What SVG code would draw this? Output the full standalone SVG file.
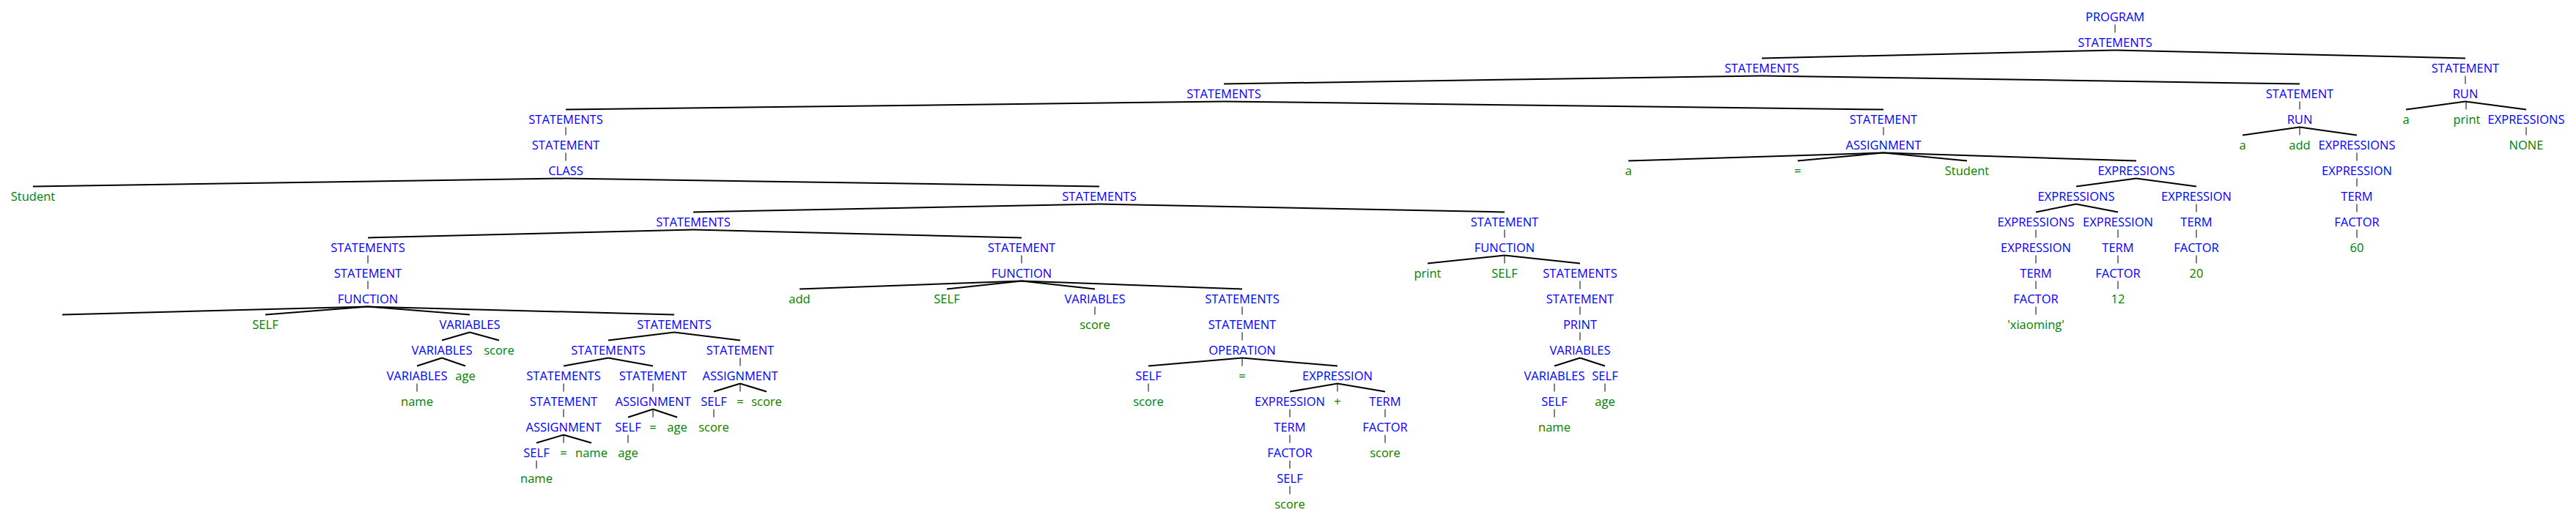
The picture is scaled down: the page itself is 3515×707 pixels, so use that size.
<svg xmlns="http://www.w3.org/2000/svg" width="3515" height="707" viewBox="0 0 3515 707">
<style>
text{font-family:"Open Sans","Noto Sans","DejaVu Sans",sans-serif;font-size:16.5px;text-anchor:middle}
.n{fill:#0000ff}
.l{fill:#008000}
line{stroke:#000;stroke-linecap:butt}
.d{stroke-width:2}
.v{stroke-width:1}
</style>
<rect width="3515" height="707" fill="#fff"/>
<g id="connectors">
<line class="v" x1="2886" y1="33.5" x2="2886" y2="44.5"/>
<line class="d" x1="2886" y1="68.5" x2="2404" y2="79.5"/>
<line class="d" x1="2886" y1="68.5" x2="3364" y2="79.5"/>
<line class="d" x1="2404" y1="103.5" x2="1670" y2="114.5"/>
<line class="d" x1="2404" y1="103.5" x2="3138" y2="114.5"/>
<line class="v" x1="3364" y1="103.5" x2="3364" y2="114.5"/>
<line class="d" x1="1670" y1="138.5" x2="772" y2="149.5"/>
<line class="d" x1="1670" y1="138.5" x2="2570" y2="149.5"/>
<line class="v" x1="3138" y1="138.5" x2="3138" y2="149.5"/>
<line class="d" x1="3364" y1="138.5" x2="3283" y2="149.5"/>
<line class="v" x1="3365" y1="138.5" x2="3365" y2="149.5"/>
<line class="d" x1="3364" y1="138.5" x2="3447" y2="149.5"/>
<line class="v" x1="772" y1="173.5" x2="772" y2="184.5"/>
<line class="v" x1="2570" y1="173.5" x2="2570" y2="184.5"/>
<line class="d" x1="3138" y1="173.5" x2="3060" y2="184.5"/>
<line class="v" x1="3138" y1="173.5" x2="3138" y2="184.5"/>
<line class="d" x1="3138" y1="173.5" x2="3216" y2="184.5"/>
<line class="v" x1="3447" y1="173.5" x2="3447" y2="184.5"/>
<line class="v" x1="772" y1="208.5" x2="772" y2="219.5"/>
<line class="d" x1="2570" y1="208.5" x2="2222" y2="219.5"/>
<line class="d" x1="2570" y1="208.5" x2="2453" y2="219.5"/>
<line class="d" x1="2570" y1="208.5" x2="2684" y2="219.5"/>
<line class="d" x1="2570" y1="208.5" x2="2915" y2="219.5"/>
<line class="v" x1="3216" y1="208.5" x2="3216" y2="219.5"/>
<line class="d" x1="772" y1="243.5" x2="45" y2="254.5"/>
<line class="d" x1="772" y1="243.5" x2="1500" y2="254.5"/>
<line class="d" x1="2915" y1="243.5" x2="2833" y2="254.5"/>
<line class="d" x1="2915" y1="243.5" x2="2997" y2="254.5"/>
<line class="v" x1="3216" y1="243.5" x2="3216" y2="254.5"/>
<line class="d" x1="1500" y1="278.5" x2="946" y2="289.5"/>
<line class="d" x1="1500" y1="278.5" x2="2053" y2="289.5"/>
<line class="d" x1="2833" y1="278.5" x2="2778" y2="289.5"/>
<line class="d" x1="2833" y1="278.5" x2="2890" y2="289.5"/>
<line class="v" x1="2997" y1="278.5" x2="2997" y2="289.5"/>
<line class="v" x1="3216" y1="278.5" x2="3216" y2="289.5"/>
<line class="d" x1="946" y1="313.5" x2="502" y2="324.5"/>
<line class="d" x1="946" y1="313.5" x2="1394" y2="324.5"/>
<line class="v" x1="2053" y1="313.5" x2="2053" y2="324.5"/>
<line class="v" x1="2778" y1="313.5" x2="2778" y2="324.5"/>
<line class="v" x1="2890" y1="313.5" x2="2890" y2="324.5"/>
<line class="v" x1="2997" y1="313.5" x2="2997" y2="324.5"/>
<line class="v" x1="3216" y1="313.5" x2="3216" y2="324.5"/>
<line class="v" x1="502" y1="348.5" x2="502" y2="359.5"/>
<line class="v" x1="1394" y1="348.5" x2="1394" y2="359.5"/>
<line class="d" x1="2053" y1="348.5" x2="1948" y2="359.5"/>
<line class="v" x1="2053" y1="348.5" x2="2053" y2="359.5"/>
<line class="d" x1="2053" y1="348.5" x2="2156" y2="359.5"/>
<line class="v" x1="2778" y1="348.5" x2="2778" y2="359.5"/>
<line class="v" x1="2890" y1="348.5" x2="2890" y2="359.5"/>
<line class="v" x1="2997" y1="348.5" x2="2997" y2="359.5"/>
<line class="v" x1="502" y1="383.5" x2="502" y2="394.5"/>
<line class="d" x1="1394" y1="383.5" x2="1091" y2="394.5"/>
<line class="d" x1="1394" y1="383.5" x2="1292" y2="394.5"/>
<line class="d" x1="1394" y1="383.5" x2="1494" y2="394.5"/>
<line class="d" x1="1394" y1="383.5" x2="1695" y2="394.5"/>
<line class="v" x1="2156" y1="383.5" x2="2156" y2="394.5"/>
<line class="v" x1="2778" y1="383.5" x2="2778" y2="394.5"/>
<line class="v" x1="2890" y1="383.5" x2="2890" y2="394.5"/>
<line class="d" x1="502" y1="418.5" x2="85" y2="429.5"/>
<line class="d" x1="502" y1="418.5" x2="362" y2="429.5"/>
<line class="d" x1="502" y1="418.5" x2="641" y2="429.5"/>
<line class="d" x1="502" y1="418.5" x2="920" y2="429.5"/>
<line class="v" x1="1494" y1="418.5" x2="1494" y2="429.5"/>
<line class="v" x1="1695" y1="418.5" x2="1695" y2="429.5"/>
<line class="v" x1="2156" y1="418.5" x2="2156" y2="429.5"/>
<line class="v" x1="2778" y1="418.5" x2="2778" y2="429.5"/>
<line class="d" x1="641" y1="453.5" x2="603" y2="464.5"/>
<line class="d" x1="641" y1="453.5" x2="681" y2="464.5"/>
<line class="d" x1="920" y1="453.5" x2="830" y2="464.5"/>
<line class="d" x1="920" y1="453.5" x2="1010" y2="464.5"/>
<line class="v" x1="1695" y1="453.5" x2="1695" y2="464.5"/>
<line class="v" x1="2156" y1="453.5" x2="2156" y2="464.5"/>
<line class="d" x1="603" y1="488.5" x2="569" y2="499.5"/>
<line class="d" x1="603" y1="488.5" x2="635" y2="499.5"/>
<line class="d" x1="830" y1="488.5" x2="769" y2="499.5"/>
<line class="d" x1="830" y1="488.5" x2="891" y2="499.5"/>
<line class="v" x1="1010" y1="488.5" x2="1010" y2="499.5"/>
<line class="d" x1="1695" y1="488.5" x2="1567" y2="499.5"/>
<line class="v" x1="1695" y1="488.5" x2="1695" y2="499.5"/>
<line class="d" x1="1695" y1="488.5" x2="1825" y2="499.5"/>
<line class="d" x1="2156" y1="488.5" x2="2121" y2="499.5"/>
<line class="d" x1="2156" y1="488.5" x2="2190" y2="499.5"/>
<line class="v" x1="569" y1="523.5" x2="569" y2="534.5"/>
<line class="v" x1="769" y1="523.5" x2="769" y2="534.5"/>
<line class="v" x1="891" y1="523.5" x2="891" y2="534.5"/>
<line class="d" x1="1010" y1="523.5" x2="974" y2="534.5"/>
<line class="v" x1="1010" y1="523.5" x2="1010" y2="534.5"/>
<line class="d" x1="1010" y1="523.5" x2="1046" y2="534.5"/>
<line class="v" x1="1567" y1="523.5" x2="1567" y2="534.5"/>
<line class="d" x1="1825" y1="523.5" x2="1760" y2="534.5"/>
<line class="v" x1="1825" y1="523.5" x2="1825" y2="534.5"/>
<line class="d" x1="1825" y1="523.5" x2="1890" y2="534.5"/>
<line class="v" x1="2121" y1="523.5" x2="2121" y2="534.5"/>
<line class="v" x1="2190" y1="523.5" x2="2190" y2="534.5"/>
<line class="v" x1="769" y1="558.5" x2="769" y2="569.5"/>
<line class="d" x1="891" y1="558.5" x2="857" y2="569.5"/>
<line class="v" x1="891" y1="558.5" x2="891" y2="569.5"/>
<line class="d" x1="891" y1="558.5" x2="924" y2="569.5"/>
<line class="v" x1="974" y1="558.5" x2="974" y2="569.5"/>
<line class="v" x1="1760" y1="558.5" x2="1760" y2="569.5"/>
<line class="v" x1="1890" y1="558.5" x2="1890" y2="569.5"/>
<line class="v" x1="2121" y1="558.5" x2="2121" y2="569.5"/>
<line class="d" x1="769" y1="593.5" x2="732" y2="604.5"/>
<line class="v" x1="769" y1="593.5" x2="769" y2="604.5"/>
<line class="d" x1="769" y1="593.5" x2="807" y2="604.5"/>
<line class="v" x1="857" y1="593.5" x2="857" y2="604.5"/>
<line class="v" x1="1760" y1="593.5" x2="1760" y2="604.5"/>
<line class="v" x1="1890" y1="593.5" x2="1890" y2="604.5"/>
<line class="v" x1="732" y1="628.5" x2="732" y2="639.5"/>
<line class="v" x1="1760" y1="628.5" x2="1760" y2="639.5"/>
<line class="v" x1="1760" y1="663.5" x2="1760" y2="674.5"/>
</g>
<g id="n-program"><text class="n" x="2886" y="28.5">PROGRAM</text></g>
<g id="n-s1"><text class="n" x="2886" y="63.5">STATEMENTS</text></g>
<g id="n-s2"><text class="n" x="2404" y="98.5">STATEMENTS</text></g>
<g id="n-st2"><text class="n" x="3364" y="98.5">STATEMENT</text></g>
<g id="n-s3"><text class="n" x="1670" y="133.5">STATEMENTS</text></g>
<g id="n-st3"><text class="n" x="3138" y="133.5">STATEMENT</text></g>
<g id="n-run3"><text class="n" x="3364" y="133.5">RUN</text></g>
<g id="n-s4"><text class="n" x="772" y="168.5">STATEMENTS</text></g>
<g id="n-st4"><text class="n" x="2570" y="168.5">STATEMENT</text></g>
<g id="n-run4"><text class="n" x="3138" y="168.5">RUN</text></g>
<g id="n-a4"><text class="l" x="3283" y="168.5">a</text></g>
<g id="n-print4"><text class="l" x="3366" y="168.5">print</text></g>
<g id="n-exps4"><text class="n" x="3447" y="168.5">EXPRESSIONS</text></g>
<g id="n-st5"><text class="n" x="772" y="203.5">STATEMENT</text></g>
<g id="n-asg5"><text class="n" x="2570" y="203.5">ASSIGNMENT</text></g>
<g id="n-a5"><text class="l" x="3060" y="203.5">a</text></g>
<g id="n-add5"><text class="l" x="3138" y="203.5">add</text></g>
<g id="n-exps5"><text class="n" x="3216" y="203.5">EXPRESSIONS</text></g>
<g id="n-none5"><text class="l" x="3447" y="203.5">NONE</text></g>
<g id="n-class6"><text class="n" x="772" y="238.5">CLASS</text></g>
<g id="n-a6"><text class="l" x="2222" y="238.5">a</text></g>
<g id="n-eq6"><text class="l" x="2453" y="238.5">=</text></g>
<g id="n-student6"><text class="l" x="2684" y="238.5">Student</text></g>
<g id="n-exps6"><text class="n" x="2915" y="238.5">EXPRESSIONS</text></g>
<g id="n-exp6"><text class="n" x="3216" y="238.5">EXPRESSION</text></g>
<g id="n-student7"><text class="l" x="45" y="273.5">Student</text></g>
<g id="n-s7"><text class="n" x="1500" y="273.5">STATEMENTS</text></g>
<g id="n-exps7"><text class="n" x="2833" y="273.5">EXPRESSIONS</text></g>
<g id="n-exp7"><text class="n" x="2997" y="273.5">EXPRESSION</text></g>
<g id="n-term7"><text class="n" x="3216" y="273.5">TERM</text></g>
<g id="n-s8"><text class="n" x="946" y="308.5">STATEMENTS</text></g>
<g id="n-st8"><text class="n" x="2053" y="308.5">STATEMENT</text></g>
<g id="n-exps8"><text class="n" x="2778" y="308.5">EXPRESSIONS</text></g>
<g id="n-exp8"><text class="n" x="2890" y="308.5">EXPRESSION</text></g>
<g id="n-term8"><text class="n" x="2997" y="308.5">TERM</text></g>
<g id="n-factor8"><text class="n" x="3216" y="308.5">FACTOR</text></g>
<g id="n-s9"><text class="n" x="502" y="343.5">STATEMENTS</text></g>
<g id="n-st9"><text class="n" x="1394" y="343.5">STATEMENT</text></g>
<g id="n-func9"><text class="n" x="2053" y="343.5">FUNCTION</text></g>
<g id="n-exp9"><text class="n" x="2778" y="343.5">EXPRESSION</text></g>
<g id="n-term9"><text class="n" x="2890" y="343.5">TERM</text></g>
<g id="n-factor9"><text class="n" x="2997" y="343.5">FACTOR</text></g>
<g id="n-60"><text class="l" x="3216" y="343.5">60</text></g>
<g id="n-st10"><text class="n" x="502" y="378.5">STATEMENT</text></g>
<g id="n-func10"><text class="n" x="1394" y="378.5">FUNCTION</text></g>
<g id="n-print10"><text class="l" x="1948" y="378.5">print</text></g>
<g id="n-self10"><text class="l" x="2053" y="378.5">SELF</text></g>
<g id="n-s10"><text class="n" x="2156" y="378.5">STATEMENTS</text></g>
<g id="n-term10"><text class="n" x="2778" y="378.5">TERM</text></g>
<g id="n-factor10"><text class="n" x="2890" y="378.5">FACTOR</text></g>
<g id="n-20"><text class="l" x="2997" y="378.5">20</text></g>
<g id="n-func11"><text class="n" x="502" y="413.5">FUNCTION</text></g>
<g id="n-add11"><text class="l" x="1091" y="413.5">add</text></g>
<g id="n-self11"><text class="l" x="1292" y="413.5">SELF</text></g>
<g id="n-vars11"><text class="n" x="1494" y="413.5">VARIABLES</text></g>
<g id="n-s11"><text class="n" x="1695" y="413.5">STATEMENTS</text></g>
<g id="n-st11"><text class="n" x="2156" y="413.5">STATEMENT</text></g>
<g id="n-factor11"><text class="n" x="2778" y="413.5">FACTOR</text></g>
<g id="n-12"><text class="l" x="2890" y="413.5">12</text></g>
<g id="n-self12"><text class="l" x="362" y="448.5">SELF</text></g>
<g id="n-vars12"><text class="n" x="641" y="448.5">VARIABLES</text></g>
<g id="n-s12"><text class="n" x="920" y="448.5">STATEMENTS</text></g>
<g id="n-score12"><text class="l" x="1494" y="448.5">score</text></g>
<g id="n-st12"><text class="n" x="1695" y="448.5">STATEMENT</text></g>
<g id="n-print12"><text class="n" x="2156" y="448.5">PRINT</text></g>
<g id="n-xiaoming"><text class="l" x="2778" y="448.5">'xiaoming'</text></g>
<g id="n-vars13"><text class="n" x="603" y="483.5">VARIABLES</text></g>
<g id="n-score13"><text class="l" x="681" y="483.5">score</text></g>
<g id="n-s13"><text class="n" x="830" y="483.5">STATEMENTS</text></g>
<g id="n-st13"><text class="n" x="1010" y="483.5">STATEMENT</text></g>
<g id="n-op13"><text class="n" x="1695" y="483.5">OPERATION</text></g>
<g id="n-vars13b"><text class="n" x="2156" y="483.5">VARIABLES</text></g>
<g id="n-vars14"><text class="n" x="569" y="518.5">VARIABLES</text></g>
<g id="n-age14"><text class="l" x="635" y="518.5">age</text></g>
<g id="n-s14"><text class="n" x="769" y="518.5">STATEMENTS</text></g>
<g id="n-st14"><text class="n" x="891" y="518.5">STATEMENT</text></g>
<g id="n-asg14"><text class="n" x="1010" y="518.5">ASSIGNMENT</text></g>
<g id="n-self14"><text class="n" x="1567" y="518.5">SELF</text></g>
<g id="n-eq14"><text class="l" x="1695" y="518.5">=</text></g>
<g id="n-exp14"><text class="n" x="1825" y="518.5">EXPRESSION</text></g>
<g id="n-vars14b"><text class="n" x="2121" y="518.5">VARIABLES</text></g>
<g id="n-self14b"><text class="n" x="2190" y="518.5">SELF</text></g>
<g id="n-name15"><text class="l" x="569" y="553.5">name</text></g>
<g id="n-st15"><text class="n" x="769" y="553.5">STATEMENT</text></g>
<g id="n-asg15"><text class="n" x="891" y="553.5">ASSIGNMENT</text></g>
<g id="n-self15"><text class="n" x="974" y="553.5">SELF</text></g>
<g id="n-eq15"><text class="l" x="1010" y="553.5">=</text></g>
<g id="n-score15"><text class="l" x="1046" y="553.5">score</text></g>
<g id="n-score15b"><text class="l" x="1567" y="553.5">score</text></g>
<g id="n-exp15"><text class="n" x="1760" y="553.5">EXPRESSION</text></g>
<g id="n-plus15"><text class="l" x="1825" y="553.5">+</text></g>
<g id="n-term15"><text class="n" x="1890" y="553.5">TERM</text></g>
<g id="n-self15b"><text class="n" x="2121" y="553.5">SELF</text></g>
<g id="n-age15"><text class="l" x="2190" y="553.5">age</text></g>
<g id="n-asg16"><text class="n" x="769" y="588.5">ASSIGNMENT</text></g>
<g id="n-self16"><text class="n" x="857" y="588.5">SELF</text></g>
<g id="n-eq16"><text class="l" x="891" y="588.5">=</text></g>
<g id="n-age16"><text class="l" x="924" y="588.5">age</text></g>
<g id="n-score16"><text class="l" x="974" y="588.5">score</text></g>
<g id="n-term16"><text class="n" x="1760" y="588.5">TERM</text></g>
<g id="n-factor16"><text class="n" x="1890" y="588.5">FACTOR</text></g>
<g id="n-name16"><text class="l" x="2121" y="588.5">name</text></g>
<g id="n-self17"><text class="n" x="732" y="623.5">SELF</text></g>
<g id="n-eq17"><text class="l" x="769" y="623.5">=</text></g>
<g id="n-name17"><text class="l" x="807" y="623.5">name</text></g>
<g id="n-age17"><text class="l" x="857" y="623.5">age</text></g>
<g id="n-factor17"><text class="n" x="1760" y="623.5">FACTOR</text></g>
<g id="n-score17"><text class="l" x="1890" y="623.5">score</text></g>
<g id="n-name18"><text class="l" x="732" y="658.5">name</text></g>
<g id="n-self18"><text class="n" x="1760" y="658.5">SELF</text></g>
<g id="n-score19"><text class="l" x="1760" y="693.5">score</text></g>
</svg>
